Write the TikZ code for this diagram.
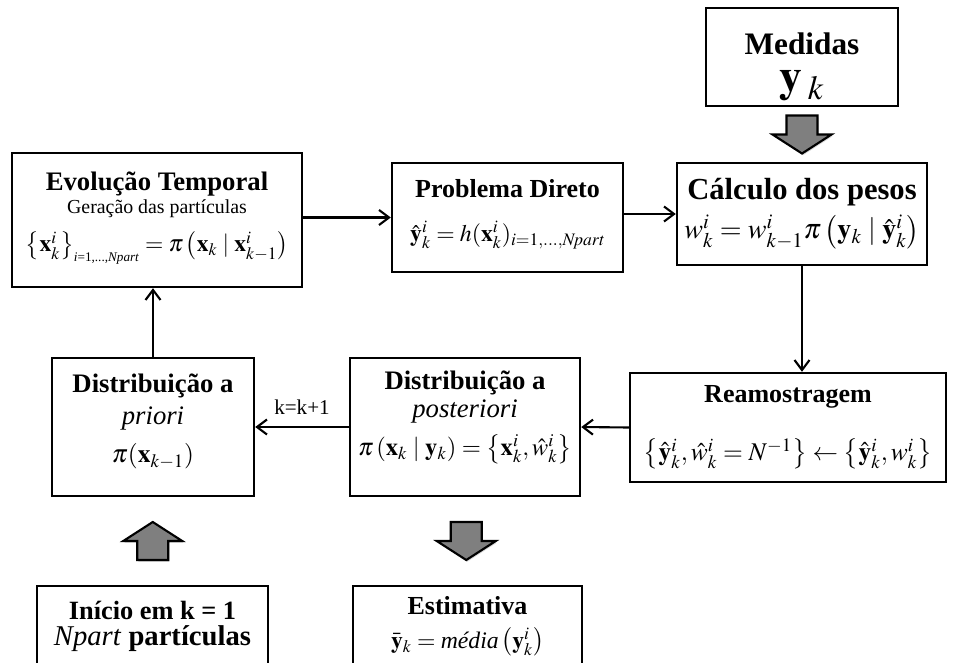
\documentclass[tikz,border=0pt]{standalone}
\usepackage{mathptmx}
\usepackage{amsmath}
\usepackage{fontspec}
\setmainfont{Liberation Serif}
\usetikzlibrary{arrows.meta, positioning, calc, shadows}
\definecolor{cgrey}{HTML}{7F7F7F}
\tikzset{
  every picture/.style={line width=1.2pt},
  box/.style={draw=black, line width=1.4pt, align=center, inner sep=4pt},
  arrow/.style={-{Straight Barb[length=2mm, width=3mm]}, draw=black, line width=1.2pt},
  fatarrow/.pic={
    \draw[fill=cgrey, line width=1.2pt, line join=miter,
          drop shadow={opacity=0.3, shadow xshift=0.6pt, shadow yshift=-1pt}]
      (-0.31,0.38) -- (0.31,0.38) -- (0.31,0) -- (0.59,0) -- (0,-0.38) -- (-0.59,0) -- (-0.31,0) -- cycle;
  },
}
\newcommand{\ttl}[2][15]{{\fontsize{#1}{#1}\selectfont\bfseries #2}}
\newcommand{\txt}[2][15]{{\fontsize{#1}{#1}\selectfont #2}}
\newcommand{\npart}{\mbox{\fontsize{7.5}{8}\selectfont\itshape i\/\upshape =1,...,\itshape Npart}}
\begin{document}
\begin{tikzpicture}
  \useasboundingbox (0,0) rectangle (19.18,13.24);
  \clip (0,0) rectangle (19.18,13.24);

  % top row
  \node[box, minimum width=3.84cm, minimum height=1.96cm, text depth=0pt] (med) at (16.04,12.10)
    {\rule{0pt}{18pt}\ttl[17.8]{Medidas}\\[8pt]\txt[26]{$\mathbf{y}_{\hspace{0.12em}k}$}};
  \node[box, minimum width=5.80cm, minimum height=2.68cm, text depth=9pt] (evo) at (3.14,8.84)
    {\ttl[15.2]{Evolução Temporal}\\[1pt]\txt[11.3]{Geração das partículas}\\[7pt]
     \txt[13.4]{$\left\{\mathbf{x}_k^i\right\}_{\npart} = \pi\left(\mathbf{x}_k \mid \mathbf{x}_{k-1}^i\right)$}};
  \node[box, minimum width=4.62cm, minimum height=2.18cm, text depth=8pt] (dir) at (10.15,8.89)
    {\ttl[14.8]{Problema Direto}\\[13pt]\txt[13.5]{$\hat{\mathbf{y}}_k^i = h(\mathbf{x}_k^i)_{i=1,\ldots,\mathit{Npart}}$}};
  \node[box, minimum width=5.00cm, minimum height=2.04cm] (calc) at (16.04,8.96)
    {\ttl[17.4]{Cálculo dos pesos}\\[4pt]\txt[16]{$w_k^i = w_{k-1}^i\pi\left(\mathbf{y}_k \mid \hat{\mathbf{y}}_k^i\right)$}};

  % middle row
  \node[box, minimum width=6.32cm, minimum height=2.18cm] (ream) at (15.76,4.69)
    {\ttl[14.8]{Reamostragem}\\[16pt]\txt[14.5]{$\left\{\hat{\mathbf{y}}_k^i, \hat{w}_k^i = N^{-1}\right\} \leftarrow \left\{\hat{\mathbf{y}}_k^i, w_k^i\right\}$}};
  \node[box, minimum width=4.60cm, minimum height=2.76cm, text depth=16pt] (post) at (9.30,4.70)
    {\ttl[15.2]{Distribuição a}\\[2pt]\txt[15.2]{\itshape posteriori}\\[5pt]
     \txt[14]{$\pi\left(\mathbf{x}_k \mid \mathbf{y}_k\right) = \left\{\mathbf{x}_k^i, \hat{w}_k^i\right\}$}};
  \node[box, minimum width=4.04cm, minimum height=2.76cm, text depth=10pt] (prio) at (3.06,4.70)
    {\ttl[15.2]{Distribuição a}\\[4pt]\txt[15.2]{\itshape priori}\\[7pt]
     \txt[14.5]{$\pi(\mathbf{x}_{k-1})$}};

  % bottom row
  \node[box, minimum width=4.62cm, minimum height=1.62cm] (ini) at (3.05,0.71)
    {\ttl[15]{Início em k = 1}\\[3pt]\txt[16.3]{\textit{Npart} \textbf{partículas}}};
  \node[box, minimum width=4.58cm, minimum height=1.62cm] (est) at (9.35,0.71)
    {\ttl[14.8]{Estimativa}\\[7pt]\txt[13.5]{$\bar{\mathbf{y}}_k = \textit{média}\left(\mathbf{y}_k^i\right)$}};

  % block arrows
  \pic at ($(med.south)!0.5!(calc.north)$) {fatarrow};
  \pic at ($(post.south)!0.5!(est.north)$) {fatarrow};
  \pic[rotate=180] at ($(prio.south)!0.5!(ini.north)$) {fatarrow};

  % connectors
  \draw[arrow] (evo.east |- dir.west) -- (dir.west);
  \draw[arrow] (dir.east |- calc.west) -- (calc.west);
  \draw[arrow] (calc.south) -- (calc.south |- ream.north);
  \draw[arrow] (ream.west) -- (post.east);
  \draw[arrow] (post.west) -- node[above=3pt, font=\fontsize{12}{14}\selectfont] (kinc) {k=k+1} (prio.east);
  \draw[arrow] (prio.north) -- (prio.north |- evo.south);
\end{tikzpicture}
\end{document}
